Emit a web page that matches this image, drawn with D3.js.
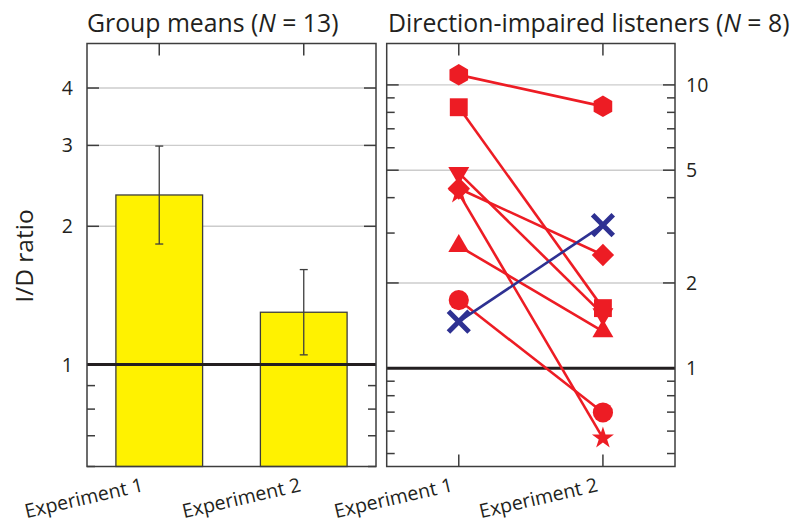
<!DOCTYPE html>
<html>
<head>
<meta charset="utf-8">
<script src="https://cdn.jsdelivr.net/npm/d3@7"></script>
<style>
  html, body { margin: 0; padding: 0; background: #fff; }
  svg { display: block; font-family: "Open Sans", "Noto Sans", sans-serif; }
</style>
</head>
<body>
<svg id="chart" width="799" height="524"></svg>
<script>
// ---- data ----
const experiments = ["Experiment 1", "Experiment 2"];

// group means with error-bar limits
const groupMeans = [2.34, 1.30];
const groupLow   = [1.83, 1.05];
const groupHigh  = [2.99, 1.61];

// individual direction-impaired listeners
const listenerShapes = ["hexagon", "square", "triangleDown", "diamond", "star", "triangle", "circle", "cross"];
const listenerExp1   = [10.85, 8.34, 4.89, 4.31, 4.15, 2.70, 1.74, 1.46];
const listenerExp2   = [8.40, 1.63, 1.55, 2.51, 0.567, 1.35, 0.698, 3.20];

// axis ticks
const leftMajorTicks  = [1, 2, 3, 4];
const leftMinorTicks  = [0.6, 0.7, 0.8, 0.9];
const rightMajorTicks = [1, 2, 5, 10];
const rightMinorTicks = [0.5, 0.6, 0.7, 0.8, 0.9, 3, 4, 6, 7, 8, 9];

// ---- layout ----
const svg = d3.select("#chart");
const plotTop = 43.5, plotBottom = 466.5;
const leftPanel  = { x0: 87,    x1: 376 };
const rightPanel = { x0: 386.7, x1: 675 };

const frameColor = "#3d3d3d";
const gridColor = "#cccccc";
const textColor = "#231f20";
const red = "#ed1c24", blue = "#2e3192", yellow = "#fff200";

const yLeft  = d3.scaleLog().domain([0.6, 5]).range([plotBottom, plotTop]);
const yRight = d3.scaleLog().domain([0.45, 14]).range([plotBottom, plotTop]);

const xLeft = d3.scalePoint().domain(experiments).range([leftPanel.x0, leftPanel.x1]).padding(0.5);
const xRight = d3.scalePoint().domain(experiments).range([rightPanel.x0, rightPanel.x1]).padding(0.5);

function panelGrid(g, panel, y, gridValues) {
  g.selectAll("line.grid").data(gridValues).join("line")
    .attr("class", "grid")
    .attr("x1", panel.x0).attr("x2", panel.x1)
    .attr("y1", d => y(d)).attr("y2", d => y(d))
    .attr("stroke", gridColor).attr("stroke-width", 1.4);
}

function panelTicks(g, panel, y, x, majors, minors) {
  const tickStyle = sel => sel.attr("stroke", frameColor).attr("stroke-width", 1.5);
  // value ticks on both sides, pointing inward
  majors.forEach(v => {
    g.append("line").attr("x1", panel.x0).attr("x2", panel.x0 + 12).attr("y1", y(v)).attr("y2", y(v)).call(tickStyle);
    g.append("line").attr("x1", panel.x1 - 12).attr("x2", panel.x1).attr("y1", y(v)).attr("y2", y(v)).call(tickStyle);
  });
  minors.forEach(v => {
    g.append("line").attr("x1", panel.x0).attr("x2", panel.x0 + 8).attr("y1", y(v)).attr("y2", y(v)).call(tickStyle);
    g.append("line").attr("x1", panel.x1 - 8).attr("x2", panel.x1).attr("y1", y(v)).attr("y2", y(v)).call(tickStyle);
  });
  // category ticks on top and bottom
  experiments.forEach(c => {
    g.append("line").attr("x1", x(c)).attr("x2", x(c)).attr("y1", plotTop).attr("y2", plotTop + 12).call(tickStyle);
    g.append("line").attr("x1", x(c)).attr("x2", x(c)).attr("y1", plotBottom - 12).attr("y2", plotBottom).call(tickStyle);
  });
}

function panelBox(g, panel) {
  g.append("rect")
    .attr("x", panel.x0).attr("y", plotTop)
    .attr("width", panel.x1 - panel.x0).attr("height", plotBottom - plotTop)
    .attr("fill", "none").attr("stroke", frameColor).attr("stroke-width", 1.5);
}

function unityLine(g, panel, y) {
  g.append("line")
    .attr("x1", panel.x0).attr("x2", panel.x1)
    .attr("y1", y(1)).attr("y2", y(1))
    .attr("stroke", textColor).attr("stroke-width", 3);
}

function categoryLabels(g, x, offsets) {
  g.selectAll("text.cat").data(experiments).join("text")
    .attr("class", "cat")
    .attr("text-anchor", "end")
    .attr("font-size", 19.5)
    .attr("fill", textColor)
    .attr("transform", (d, i) => `translate(${x(d) + offsets[i]},491) rotate(-13)`)
    .text(d => d);
}

function title(x, main, count) {
  const t = svg.append("text")
    .attr("x", x).attr("y", 31.5)
    .attr("font-size", 24.8).attr("fill", textColor);
  t.append("tspan").text(main + " (");
  t.append("tspan").attr("font-style", "italic").text("N");
  t.append("tspan").text(" = " + count + ")");
}

// ---- left panel: group means ----
const gL = svg.append("g");
panelGrid(gL, leftPanel, yLeft, [2, 3, 4]);
panelTicks(gL, leftPanel, yLeft, xLeft, leftMajorTicks, leftMinorTicks);

const barWidth = xLeft.step() * 0.6;
gL.selectAll("rect.bar").data(experiments).join("rect")
  .attr("class", "bar")
  .attr("x", d => xLeft(d) - barWidth / 2)
  .attr("width", barWidth)
  .attr("y", (d, i) => yLeft(groupMeans[i]))
  .attr("height", (d, i) => plotBottom - yLeft(groupMeans[i]))
  .attr("fill", yellow).attr("stroke", "#3d3d3d").attr("stroke-width", 1.3);

// error bars
experiments.forEach((c, i) => {
  const cx = xLeft(c);
  const e = gL.append("g").attr("stroke", "#3d3d3d").attr("stroke-width", 1.3);
  e.append("line").attr("x1", cx).attr("x2", cx).attr("y1", yLeft(groupLow[i])).attr("y2", yLeft(groupHigh[i]));
  e.append("line").attr("x1", cx - 4).attr("x2", cx + 4).attr("y1", yLeft(groupLow[i])).attr("y2", yLeft(groupLow[i]));
  e.append("line").attr("x1", cx - 4).attr("x2", cx + 4).attr("y1", yLeft(groupHigh[i])).attr("y2", yLeft(groupHigh[i]));
});

unityLine(gL, leftPanel, yLeft);
panelBox(gL, leftPanel);

gL.selectAll("text.ytick").data(leftMajorTicks).join("text")
  .attr("class", "ytick")
  .attr("x", 73).attr("y", d => yLeft(d))
  .attr("dy", "0.36em").attr("text-anchor", "end")
  .attr("font-size", 19.5).attr("fill", textColor)
  .text(d => d);

svg.append("text")
  .attr("transform", "translate(33,256) rotate(-90)")
  .attr("text-anchor", "middle")
  .attr("font-size", 24.5).attr("fill", textColor)
  .text("I/D ratio");

categoryLabels(gL, xLeft, [-15, -2]);
title(87, "Group means", 13);

// ---- right panel: individual listeners ----
const gR = svg.append("g");
panelGrid(gR, rightPanel, yRight, [2, 5, 10]);
panelTicks(gR, rightPanel, yRight, xRight, rightMajorTicks, rightMinorTicks);
unityLine(gR, rightPanel, yRight);

const hexagon = {
  draw(ctx, size) {
    const r = Math.sqrt(size * 2 / (3 * Math.sqrt(3)));
    for (let k = 0; k < 6; k++) {
      const a = Math.PI / 2 + k * Math.PI / 3;
      const px = r * Math.cos(a), py = r * Math.sin(a);
      if (k === 0) ctx.moveTo(px, py); else ctx.lineTo(px, py);
    }
    ctx.closePath();
  }
};

const symbolDefs = {
  hexagon:      { type: hexagon,          size: 300, rotate: 0 },
  square:       { type: d3.symbolSquare,   size: 320, rotate: 0 },
  triangleDown: { type: d3.symbolTriangle, size: 190, rotate: 180 },
  diamond:      { type: d3.symbolSquare,   size: 250, rotate: 45 },
  star:         { type: d3.symbolStar,     size: 150, rotate: 0 },
  triangle:     { type: d3.symbolTriangle, size: 190, rotate: 0 },
  circle:       { type: d3.symbolCircle,   size: 320, rotate: 0 },
  cross:        { type: d3.symbolTimes,    size: 280, rotate: 0 }
};

const listeners = listenerShapes.map((s, i) => ({
  shape: s, v1: listenerExp1[i], v2: listenerExp2[i],
  color: listenerExp2[i] > listenerExp1[i] ? blue : red
}));
// declining listeners first so the improving one sits on top
const ordered = listeners.filter(d => d.color === red).concat(listeners.filter(d => d.color === blue));

const [e1, e2] = experiments;
gR.selectAll("line.listener").data(ordered).join("line")
  .attr("class", "listener")
  .attr("x1", xRight(e1)).attr("x2", xRight(e2))
  .attr("y1", d => yRight(d.v1)).attr("y2", d => yRight(d.v2))
  .attr("stroke", d => d.color).attr("stroke-width", 2.6);

ordered.forEach(d => {
  const def = symbolDefs[d.shape];
  const path = d3.symbol().type(def.type).size(def.size)();
  [[e1, d.v1], [e2, d.v2]].forEach(([c, v]) => {
    const p = gR.append("path")
      .attr("d", path)
      .attr("transform", `translate(${xRight(c)},${yRight(v)}) rotate(${def.rotate})`);
    if (d.shape === "cross") {
      p.attr("fill", "none").attr("stroke", d.color).attr("stroke-width", 5);
    } else {
      p.attr("fill", d.color);
    }
  });
});

panelBox(gR, rightPanel);

gR.selectAll("text.ytick").data(rightMajorTicks).join("text")
  .attr("class", "ytick")
  .attr("x", 686).attr("y", d => yRight(d))
  .attr("dy", "0.36em").attr("text-anchor", "start")
  .attr("font-size", 19.5).attr("fill", textColor)
  .text(d => d);

categoryLabels(gR, xRight, [-5, -4]);
title(388, "Direction-impaired listeners", 8);
</script>
</body>
</html>
